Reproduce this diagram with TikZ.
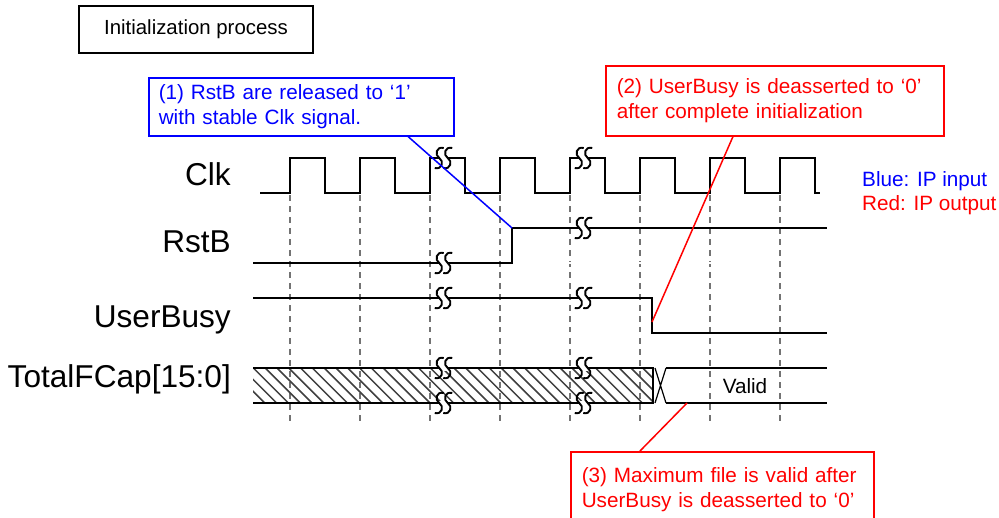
\documentclass[tikz,border=0pt]{standalone}
\usepackage{fontspec}
\setmainfont{Liberation Sans}
\newcommand\mySmark[2]{%
  (#1+4.5,#2-10) .. controls (#1-3,#2-12) and (#1-5,#2-3) .. (#1,#2)
  .. controls (#1+5,#2+3) and (#1+3,#2+12) .. (#1-4.5,#2+10)}
\newcommand\mybreak[2]{%
  \fill[white] (#1-4.25,#2-2.5) rectangle (#1+4.25,#2+2.5);
  \draw[brk] \mySmark{#1-4.25}{#2};
  \draw[brk] \mySmark{#1+4.25}{#2};}
\begin{document}
\begin{tikzpicture}[x=1pt,y=-1pt,
  sig/.style={line width=1.6pt, line join=miter},
  gridline/.style={draw=black!55, line width=1.5pt, dash pattern=on 6pt off 5pt},
  brk/.style={line width=1.9pt, black},
  ghost/.style={draw=black!40, line width=0.8pt, double=white, double distance=1.2pt},
  hatch/.style={draw=black!75, line width=1.5pt},
  lbl/.style={anchor=base east, inner sep=0pt, font=\fontsize{31.6}{36}\selectfont},
  small/.style={font=\fontsize{20.7}{25.5}\selectfont},
  callout/.style={small, draw, line width=1.5pt, align=left, anchor=north west, inner ysep=2pt},
]
\useasboundingbox (0,0) rectangle (999,517);
\clip (0,0) rectangle (999,517);
\fill[white] (0,0) rectangle (999,517);

% title
\node[draw, line width=1.3pt, minimum width=234pt, minimum height=47pt, inner sep=0pt,
      font=\fontsize{20.4}{24}\selectfont] (title) at (196,29.5) {Initialization process};

% dashed timing grid
\foreach \x in {290,360,430,500,570,640,710,780}
  \draw[gridline] (\x,195) -- (\x,424);

% signal labels
\node[lbl] (lclk) at (231,185) {Clk};
\node[lbl] (lrst) at (231,252) {RstB};
\node[lbl] (lbusy) at (231,327) {UserBusy};
\node[lbl] (lcap) at (231,387) {TotalFCap[15:0]};

% Clk
\draw[sig] (260,193) \foreach \x in {290,360,...,780} { -- (\x,193) -- (\x,158) -- (\x+35,158) -- (\x+35,193) } -- (820,193);

% RstB
\draw[ghost] (512,263) -- (773,263);
\draw[sig] (253,263) -- (512,263) -- (512,228) -- (827,228);
\coordinate (rstedge) at (512,228);

% UserBusy
\draw[ghost] (253,333) -- (652,333);
\draw[sig] (253,298) -- (652,298) -- (652,333) -- (827,333);
\coordinate (busyedge) at (652,322);

% TotalFCap
\begin{scope}
  \clip (253,368) rectangle (653,403);
  \foreach \x in {218,229.8,...,660}
    \draw[hatch] (\x,368) -- (\x+35,403);
\end{scope}
\draw[sig] (253,368) -- (653,368) -- (653,403) -- (253,403);
\draw[line width=1.2pt] (655,368) -- (666,403) (666,368) -- (655,403);
\draw[sig] (666,368) -- (827,368) (666,403) -- (827,403);
\coordinate (validpt) at (687,403);
\node[small, inner sep=0pt, anchor=base] (valid) at (745,393) {Valid};

% break marks
\mybreak{443.5}{158}
\mybreak{583.5}{158}
\mybreak{443.5}{263}
\mybreak{583.5}{228}
\mybreak{443.5}{298}
\mybreak{583.5}{298}
\mybreak{443.5}{368}
\mybreak{443.5}{403}
\mybreak{583.5}{368}
\mybreak{583.5}{403}

% legend
\node[small, blue, inner sep=0pt, anchor=base west] (leg1) at (862,186) {Blue: IP input};
\node[small, red, inner sep=0pt, anchor=base west] (leg2) at (862,210) {Red: IP output};

% callouts
\node[callout, draw=blue, text=blue, minimum width=305pt, minimum height=58pt,
      inner xsep=10pt, text width=285pt] (c1) at (148,77)
  {(1) RstB are released to `1'\\with stable Clk signal.};
\draw[blue, line width=1.5pt] (c1.south west) ++(260,0) -- (rstedge);

\node[callout, draw=red, text=red, minimum width=338pt, minimum height=70pt,
      inner xsep=11pt, text width=316pt] (c2) at (605,65)
  {(2) UserBusy is deasserted to `0'\\after complete initialization};
\draw[red, line width=1.5pt] (c2.south west) ++(128,0) -- (busyedge);

\node[callout, draw=red, text=red, minimum width=303pt, minimum height=76pt,
      inner xsep=11pt, text width=281pt] (c3) at (570,451)
  {(3) Maximum file is valid after\\UserBusy is deasserted to `0'};
\draw[red, line width=1.5pt] (c3.north west) ++(70,0) -- (validpt);
\end{tikzpicture}
\end{document}
